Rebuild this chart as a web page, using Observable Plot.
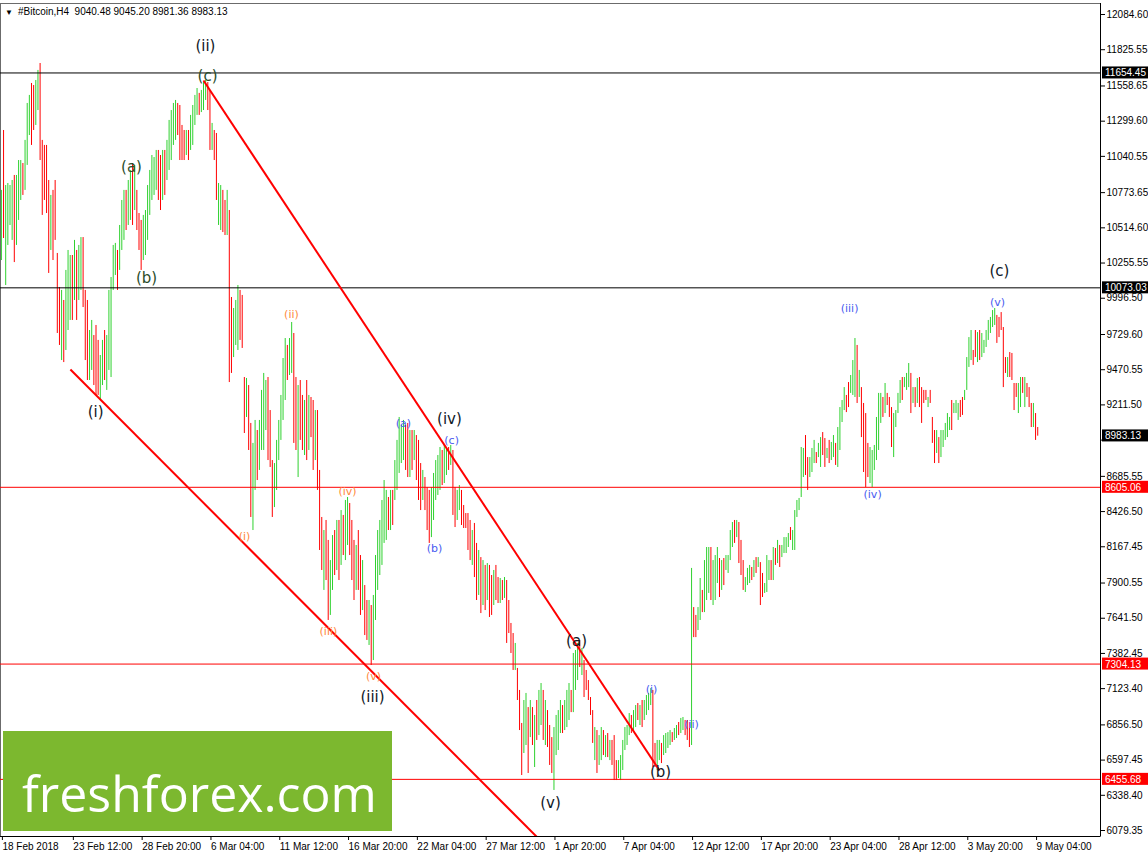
<!DOCTYPE html>
<html><head><meta charset="utf-8">
<script src="https://cdn.jsdelivr.net/npm/d3@7"></script>
<script src="https://cdn.jsdelivr.net/npm/@observablehq/plot@0.6"></script>
<style>body{margin:0;background:#fff}#chart{position:relative;width:1148px;height:856px}</style>
</head><body><div id="chart"></div>
<script>
// ---------- data (H4 bars, Bitcoin, 18 Feb 2018 00:00 onward) ----------
const symbolName = "#Bitcoin,H4";
const lastQuote = ["9040.48", "9045.20", "8981.36", "8983.13"];
const barHigh = [
10790,11231,10826,10841,10826,10863,10900,10900,11010,11010,
10988,11158,11430,11489,11577,11562,11599,11673,11724,11158,
11121,11121,10863,10753,10790,10863,10326,10075,10054,9980,
10201,10348,10311,10311,10422,10348,10385,10443,10443,10054,
9980,9759,9833,9722,9796,9686,9575,9686,9759,9722,
10054,10149,10385,10400,10348,10532,10716,10790,10790,10863,
10937,10988,10974,10790,10620,10569,10606,10642,10826,10937,
11047,11032,11084,11084,11047,11084,11084,11158,11305,11378,
11430,11452,11430,11415,11268,11231,11231,11231,11342,11415,
11489,11540,11504,11526,11584,11599,11584,11526,11283,11231,
11209,10841,10826,10790,10716,10790,10642,10002,9921,9980,
10090,10054,10017,9413,9406,9354,9075,8928,9097,9023,
9097,9318,9443,9391,9413,9170,8802,8780,8950,9097,
9281,9553,9700,9649,9700,9818,9737,9413,9354,9391,
9281,9244,9391,9281,9266,9244,9170,9170,8729,8383,
8287,8361,8214,8066,8250,8287,8361,8361,8434,8398,
8508,8530,8486,8361,8214,8177,8287,8103,8066,7882,
7772,7772,7735,7809,8103,8287,8361,8508,8655,8582,
8530,8582,8582,8802,8950,9119,9060,9097,9060,9075,
9023,9023,9023,8986,8950,8780,8729,8677,8603,8582,
8603,8707,8802,8839,8898,8876,8913,8898,8898,8913,
8876,8603,8582,8618,8582,8471,8412,8412,8361,8287,
8339,8192,8140,8088,8066,8030,8044,8030,7956,7993,
8030,7941,7934,7919,7941,7919,7772,7603,7529,7456,
7272,7110,6867,7036,7088,6984,7036,6984,6926,7036,
7110,7161,7110,7036,6962,6852,6763,6837,6926,6962,
7036,6999,7036,7110,7161,7110,7382,7404,7456,7478,
7419,7330,7257,7183,7058,6962,6837,6815,6778,6837,
6815,6778,6793,6742,6742,6778,6594,6594,6631,6742,
6837,6852,6940,6926,6962,6999,7014,6999,7036,7036,
7073,7088,7124,7110,6720,6742,6742,6720,6778,6793,
6800,6815,6800,6830,6852,6874,6904,6911,6889,6889,
6874,8008,7720,7662,7720,7934,7846,8066,8162,8162,
8162,8066,8103,8162,8081,8066,8081,8103,8103,8287,
8346,8361,8361,8346,8214,8066,7941,8008,8030,8015,
8066,8088,8088,8051,7971,7897,8103,8066,8066,8162,
8155,8214,8177,8177,8235,8235,8265,8309,8287,8434,
8508,8523,8898,8891,8986,8824,8824,8891,8950,8861,
8928,8971,9008,8964,8891,8950,8935,8986,8928,9045,
9192,9244,9339,9281,9376,9428,9538,9700,9649,9465,
9339,9222,9148,8928,8898,8876,8913,9119,9296,9296,
9266,9369,9296,9266,9192,9148,9170,9296,9391,9413,
9413,9443,9516,9443,9339,9339,9406,9413,9339,9318,
9318,9266,9318,9119,9023,9023,8971,9023,9023,9075,
9148,9119,9244,9222,9244,9222,9244,9266,9318,9560,
9707,9759,9612,9759,9744,9759,9737,9686,9759,9833,
9855,9906,9921,9870,9855,9891,9781,9560,9560,9597,
9590,9369,9369,9369,9413,9413,9413,9369,9339,9222,
9222,9148,9045.20
];
const barLow = [
10274,10436,10090,10385,10532,10422,10259,10385,10569,10716,
10753,10790,10974,11194,11121,11231,11268,11378,11010,10606,
10716,10620,10179,10348,10274,10422,9737,9649,9538,9523,
9612,9759,9833,9833,9980,9833,9980,10054,9928,9538,
9391,9391,9465,9354,9281,9281,9244,9354,9391,9318,
9465,9413,10054,10164,10054,10201,10348,10422,10495,10532,
10569,10532,10642,10495,10348,10201,10274,10311,10422,10606,
10716,10753,10790,10716,10642,10716,10753,10863,10937,11010,
11121,11158,11194,11010,11010,11010,11047,11010,11084,11121,
11268,11342,11342,11363,11378,11452,11378,11084,11084,11010,
10716,10532,10495,10480,10458,10458,9376,9443,9560,9649,
9612,9686,9627,9001,9119,8876,8383,8287,8582,8655,
8729,8876,8876,9023,8802,8751,8383,8456,8582,8802,
8950,9097,9244,9391,9428,9443,8928,8876,8677,8950,
8876,8839,8802,8876,8971,8729,8802,8582,8140,7993,
7846,7919,7625,7662,7846,7956,7993,7919,8030,8103,
8066,8177,8103,7919,7772,7846,7846,7662,7698,7514,
7478,7441,7294,7330,7625,7846,7956,8030,8192,8214,
8287,8287,8324,8508,8582,8707,8780,8802,8729,8677,
8677,8729,8802,8655,8508,8434,8508,8434,8287,8192,
8235,8361,8508,8545,8582,8618,8633,8692,8729,8766,
8398,8309,8361,8434,8324,8302,8302,8140,8066,8030,
7941,7772,7809,7676,7735,7698,7772,7647,7662,7735,
7772,7750,7750,7772,7787,7456,7529,7382,7257,7257,
7036,6815,6484,6646,6705,6499,6763,6705,6543,6742,
6778,6852,6742,6705,6690,6558,6499,6374,6631,6668,
6793,6793,6815,6837,6889,6947,6947,7110,7183,7279,
7220,7058,7110,7036,6926,6720,6594,6499,6558,6594,
6631,6616,6616,6594,6558,6447,6447,6462,6447,6521,
6668,6705,6778,6793,6815,6837,6889,6852,6837,6889,
6926,6962,6999,6543,6543,6521,6594,6572,6631,6646,
6683,6705,6727,6742,6756,6778,6793,6815,6778,6742,
6690,6705,7499,7499,7551,7625,7683,7683,7772,7824,
7772,7735,7772,7897,7794,7846,7882,7993,7971,8066,
8162,8192,8235,8044,7956,7846,7831,7882,7897,7919,
7941,7971,8015,7735,7794,7824,7831,7919,7919,7919,
8030,8044,8015,8088,8118,8118,8162,8214,8140,8140,
8383,8434,8530,8677,8692,8582,8677,8714,8780,8780,
8824,8751,8839,8751,8817,8780,8802,8824,8766,8751,
8876,9082,9170,9155,9192,9296,9281,9266,9222,9266,
8971,8714,8603,8677,8633,8603,8729,8802,8876,9075,
9119,9148,9207,9119,8898,8824,9045,9148,9222,9244,
9339,9318,9339,9148,9222,9192,9222,9192,9075,9222,
9244,9192,9222,8928,8780,8854,8780,8824,8898,8950,
8971,9023,9023,9148,9148,9097,9119,9134,9244,9318,
9487,9538,9502,9560,9523,9538,9560,9590,9634,9686,
9737,9781,9796,9664,9707,9759,9339,9443,9413,9413,
9391,9170,9266,9148,9192,9296,9192,9266,9192,9045,
9045,8950,8981.36
];
// g = bullish bar, r = bearish bar
const barDir =
"grggggrggg" + "rgggrrggrr" + "rrrgrrrrgr" + "gggrgrggrr" + "rggrrrggrg" +
"ggggrgggrg" + "grgrrrgggg" + "gggrrgrggg" + "ggrrrrgrgg" + "ggrgggrrgr" +
"rggrrgrrgg" + "grrrgrrggr" + "ggggrrrggg" + "gggrggrrgr" + "rgrgrrgrrr" +
"grrggrgrgr" + "ggrrrgrrgr" + "rgrggggggg" + "rgrgggggrr" + "grgrrrgrrr" +
"gggggrggrg" + "rrggrrrrrg" + "rrgrgrgrrg" + "rrgrgrrrrg" + "rrrggrgrgr" +
"ggrgrrrggg" + "grgggrgggr" + "grrrrrgrgg" + "rgrgrrrggg" + "gggrggrgrg" +
"gggrrggrgg" + "ggrggrggrr" + "rgrrggrggg" + "rgggrgrggg" + "grgrrrgggr" +
"grgrrgggrg" + "rgrggggrgg" + "ggggrrgggr" + "ggrrgrggrg" + "gggrrgggrg" +
"rrrrgggggg" + "rgrrrggggr" + "gggrgrgrrr" + "rgrrrgrggg" + "ggrgggrrgg" +
"ggrrgrgggg" + "gggrrrrrgr" + "rrrggrgrrr" + "grr";

const priceTicks = [12084.60, 11825.55, 11558.65, 11299.60, 11040.55, 10773.65, 10514.60, 10255.55,
  9996.50, 9729.60, 9470.55, 9211.50, 8952.45, 8685.55, 8426.50, 8167.45, 7900.55, 7641.50,
  7382.45, 7123.40, 6856.50, 6597.45, 6338.40, 6079.35];
const dateTickBars = [0, 33, 65, 97, 129, 161, 193, 225, 257, 289, 321, 353, 385, 417, 449, 481];
const dateTickLabels = ["18 Feb 2018", "23 Feb 12:00", "28 Feb 20:00", "6 Mar 04:00", "11 Mar 12:00",
  "16 Mar 20:00", "22 Mar 04:00", "27 Mar 12:00", "1 Apr 20:00", "7 Apr 04:00", "12 Apr 12:00",
  "17 Apr 20:00", "23 Apr 04:00", "28 Apr 12:00", "3 May 20:00", "9 May 04:00"];

const levelsBlack = [11654.45, 10073.03];
const levelsRed = [8605.06, 7304.13, 6455.68];
const currentPrice = 8983.13;

// trend lines: [bar1, price1, bar2, price2]
const trendLines = [
  [94.0, 11599, 306.1, 6521],
  [32.1, 9472, 250.7, 6006]
];

// Elliott wave labels
const waveText  = ["(ii)", "(c)", "(a)", "(b)", "(i)", "(iii)", "(iv)", "(v)", "(a)", "(b)", "(c)",
                   "(i)", "(ii)", "(iii)", "(iv)", "(v)",
                   "(a)", "(b)", "(c)", "(i)", "(ii)", "(iii)", "(iv)", "(v)"];
const waveBar   = [94.9, 95.9, 60.5, 67.5, 43.8, 172.6, 208.4, 255.4, 267.5, 306.6, 464.2,
                   113.1, 134.9, 152.1, 161.0, 173.1,
                   187.0, 201.4, 209.4, 302.4, 321.0, 394.5, 405.2, 463.3];
const wavePrice = [11849, 11629, 10959, 10142, 9156, 7058, 9104, 6278, 7470, 6506, 10193,
                   8243, 9877, 7544, 8574, 7213,
                   9075, 8155, 8950, 7117, 6860, 9921, 8553, 9966];
const waveKind  = ["major", "minorG", "minorG", "minorG", "major", "major", "major", "major", "major", "major", "major",
                   "orange", "orange", "orange", "orange", "orange",
                   "blue", "blue", "blue", "blue", "blue", "blue", "blue", "blue"];

// ---------- build ----------
const bars = barHigh.map((h, i) => ({i, hi: h, lo: barLow[i], up: barDir[i] === "g"}));
const waves = waveText.map((t, k) => ({t, x: waveBar[k], y: wavePrice[k], kind: waveKind[k]}));
const trends = trendLines.map(([x1, y1, x2, y2]) => ({x1, y1, x2, y2}));

const W = 1148, H = 856;
const xDomain = [-0.42, 511.2];
const yDomain = [6035.2, 12165.6];
const fontAxis = "'Liberation Sans', Arial, sans-serif";
const fontWave = "'DejaVu Sans', Verdana, sans-serif";
const kindColor = {major: "#111827", minorG: "#2a4d2a", orange: "#ff8a3d", blue: "#4a5cf0"};
const kindSize = {major: 15, minorG: 15, orange: 11, blue: 11};
// the tick label hidden behind the current-price tag in the original is left blank
const hiddenTick = 8952.45;

const chart = Plot.plot({
  width: W, height: H,
  marginLeft: 0, marginRight: 48, marginTop: 3, marginBottom: 20,
  style: {fontFamily: fontAxis, fontSize: "10px", background: "#fff", color: "#000"},
  x: {type: "linear", domain: xDomain},
  y: {type: "linear", domain: yDomain},
  marks: [
    Plot.frame({stroke: "#6b6b6b"}),
    Plot.ruleX(bars, {x: "i", y1: "lo", y2: "hi", stroke: d => d.up ? "#2fd12f" : "#ff0000", strokeWidth: 1}),
    Plot.ruleY(levelsBlack, {stroke: "#000", strokeWidth: 1}),
    Plot.ruleY(levelsRed, {stroke: "#ff0000", strokeWidth: 1}),
    Plot.link(trends, {x1: "x1", y1: "y1", x2: "x2", y2: "y2", stroke: "#ff0000", strokeWidth: 2, clip: true}),
    ...Object.keys(kindColor).map(k => Plot.text(waves.filter(d => d.kind === k), {
      x: "x", y: "y", text: "t", fill: kindColor[k], fontSize: kindSize[k], fontFamily: fontWave
    })),
    Plot.ruleX([xDomain[1]], {stroke: "#000"}),
    Plot.ruleY([yDomain[0]], {stroke: "#000"}),
    Plot.axisY({anchor: "right", ticks: priceTicks, tickFormat: d => d === hiddenTick ? "" : d.toFixed(2),
      tickSize: 4, tickPadding: 2, fontSize: 10, label: null, stroke: "#000", fill: "#000"}),
    Plot.axisX({ticks: dateTickBars, tickFormat: d => dateTickLabels[dateTickBars.indexOf(d)],
      textAnchor: "start", tickSize: 4, tickPadding: 2, fontSize: 10, label: null, dx: 1, stroke: "#000", fill: "#000"})
  ]
});
document.getElementById("chart").appendChild(chart);

// price tags on the right axis
const svg = d3.select(chart);
const yS = chart.scale("y");
const tags = [
  ...levelsBlack.map(v => ({v, fill: "#000"})),
  {v: currentPrice, fill: "#000"},
  ...levelsRed.map(v => ({v, fill: "#ff0000"}))
];
const tagG = svg.append("g").attr("text-anchor", "start");
tags.forEach(t => {
  const yy = yS.apply(t.v);
  tagG.append("rect").attr("x", 1102).attr("y", yy - 6).attr("width", 46).attr("height", 12).attr("fill", t.fill);
  tagG.append("text").attr("x", 1105).attr("y", yy + 4).attr("fill", "#fff").attr("text-anchor", "start")
    .style("font", "10px " + fontAxis).text(t.v.toFixed(2));
});

// header
const head = svg.append("text").attr("x", 5).attr("y", 15).attr("text-anchor", "start")
  .style("font", "10px " + fontAxis).attr("fill", "#000");
head.append("tspan").style("font-size", "8px").text("\u25BC");
head.append("tspan").attr("dx", 5).text(symbolName + "  " + lastQuote.join(" "));

// watermark
const wm = svg.append("g").attr("text-anchor", "start");
wm.append("rect").attr("x", 3).attr("y", 731).attr("width", 389).attr("height", 100).attr("fill", "#7cb82f");
wm.append("text").attr("x", 22).attr("y", 812).attr("fill", "#fff").attr("text-anchor", "start")
  .style("font", "50px 'Open Sans', sans-serif").text("freshforex.com");
</script>
</body></html>
